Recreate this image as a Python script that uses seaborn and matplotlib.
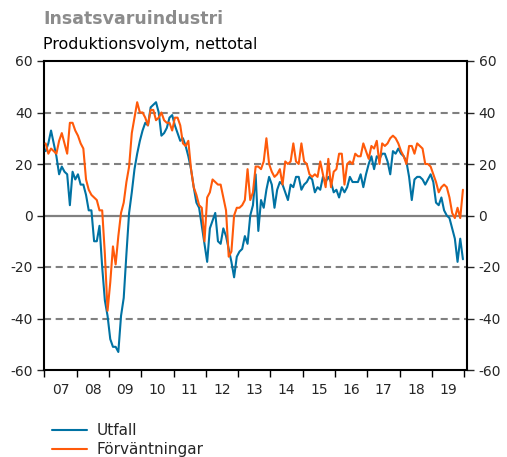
import numpy as np
import pandas as pd
import matplotlib
matplotlib.use("Agg")
import matplotlib.pyplot as plt
import seaborn as sns

# Monthly net balances, Jan 2007 - Dec 2019
years = [str(y)[-2:] for y in range(2007, 2020)]

utfall = [
    25, 28, 33, 28, 23, 16, 19, 17, 16, 4, 17, 14,          # 2007
    16, 12, 12, 8, 2, 2, -10, -10, -4, -20, -33, -39,       # 2008
    -48, -51, -51, -53, -39, -32, -15, 1, 9, 18, 24, 29,    # 2009
    33, 36, 35, 42, 43, 44, 40, 31, 32, 34, 38, 39,         # 2010
    35, 32, 29, 30, 27, 23, 18, 11, 5, 3, -4, -11,          # 2011
    -18, -5, -2, 1, -10, -11, -5, -8, -13, -18, -24, -16,   # 2012
    -14, -13, -8, -11, 0, 4, 16, -6, 6, 3, 10, 15,          # 2013
    12, 3, 10, 13, 12, 9, 6, 12, 11, 15, 15, 10,            # 2014
    12, 13, 15, 14, 9, 11, 10, 15, 13, 15, 13, 9,           # 2015
    10, 7, 11, 9, 11, 15, 13, 13, 13, 16, 11, 16,           # 2016
    20, 23, 18, 23, 22, 24, 24, 21, 16, 25, 24, 26,         # 2017
    24, 23, 21, 15, 6, 14, 15, 15, 14, 12, 14, 16,          # 2018
    13, 5, 4, 7, 2, 0, -1, -5, -9, -18, -9, -17,            # 2019
]

forvantningar = [
    28, 24, 26, 25, 24, 29, 32, 28, 24, 36, 36, 33,         # 2007
    31, 28, 26, 14, 10, 8, 7, 6, 2, 2, -15, -37,            # 2008
    -26, -12, -19, -8, 1, 5, 13, 19, 32, 38, 44, 40,        # 2009
    40, 38, 35, 41, 41, 37, 38, 40, 37, 36, 36, 33,         # 2010
    38, 38, 35, 28, 27, 29, 18, 11, 8, 4, 3, -10,           # 2011
    7, 9, 14, 13, 12, 12, 7, 2, -16, -14, 0, 3,             # 2012
    3, 4, 6, 18, 6, 9, 19, 19, 18, 21, 30, 20,              # 2013
    17, 15, 16, 18, 12, 21, 20, 21, 28, 21, 20, 28,         # 2014
    21, 20, 16, 15, 16, 15, 21, 16, 11, 22, 11, 17,         # 2015
    18, 24, 24, 12, 20, 21, 20, 24, 23, 23, 28, 25,         # 2016
    22, 27, 26, 29, 20, 28, 27, 28, 30, 31, 30, 28,         # 2017
    25, 23, 20, 27, 27, 24, 28, 27, 26, 20, 20, 19,         # 2018
    16, 13, 9, 11, 12, 11, 7, 1, -1, 3, -1, 10,             # 2019
]

n = len(utfall)
t = 2007 + (np.arange(n) + 0.5) / 12.0
df = pd.DataFrame({
    "t": np.concatenate([t, t]),
    "value": utfall + forvantningar,
    "serie": ["Utfall"] * n + ["Förväntningar"] * n,
})

sns.set_style("ticks")
plt.rcParams["font.family"] = ["DejaVu Sans"]
plt.rcParams["axes.unicode_minus"] = False

fig = plt.figure(figsize=(5.07, 4.57), dpi=100)
ax = fig.add_axes([44.3 / 507, 1 - 370 / 457, (466.7 - 44.3) / 507, 309 / 457])

grid_col = "#808080"
for yv in [-40, -20, 20, 40]:
    ax.axhline(yv, color=grid_col, lw=1.5, dashes=(3.4, 2.2), zorder=1)
ax.axhline(0, color=grid_col, lw=1.6, zorder=1)

sns.lineplot(data=df, x="t", y="value", hue="serie", ax=ax,
             palette={"Utfall": "#0072a3", "Förväntningar": "#ff5a0a"},
             linewidth=1.5, zorder=3)

ax.set_xlim(2007, 2020.075)
ax.set_ylim(-60, 60)
ax.set_yticks(range(-60, 61, 20))
ax.set_xticks(range(2007, 2021))
ax.set_xticklabels([])
ax.set_xticks([y + 0.5 for y in range(2007, 2020)], minor=True)
ax.set_xticklabels(years, minor=True)
ax.tick_params(axis="x", which="major", length=5, width=1, color="black", direction="out")
ax.tick_params(axis="x", which="minor", length=0, pad=9, labelsize=10)
ax.tick_params(axis="y", which="major", length=5, width=1, direction="out",
               left=True, right=True, labelleft=True, labelright=True,
               labelsize=10, pad=3.5)
ax.set_xlabel("")
ax.set_ylabel("")
for s in ax.spines.values():
    s.set_visible(True)
    s.set_linewidth(1.5)
    s.set_color("black")

sns.move_legend(ax, "upper left", bbox_to_anchor=((52 - 44.3) / 422.4, -0.172),
                frameon=False, title=None, fontsize=11, borderpad=0,
                borderaxespad=0, handlelength=2.3, handletextpad=0.6,
                labelspacing=0.25)

fig.text(43 / 507, 1 - 19 / 457, "Insatsvaruindustri", fontsize=12.5,
         fontweight="bold", color="#8c8c8c", ha="left", va="center")
fig.text(43 / 507, 1 - 44 / 457, "Produktionsvolym, nettotal", fontsize=11.4,
         color="black", ha="left", va="center")

fig.savefig("out.png", dpi=100)
